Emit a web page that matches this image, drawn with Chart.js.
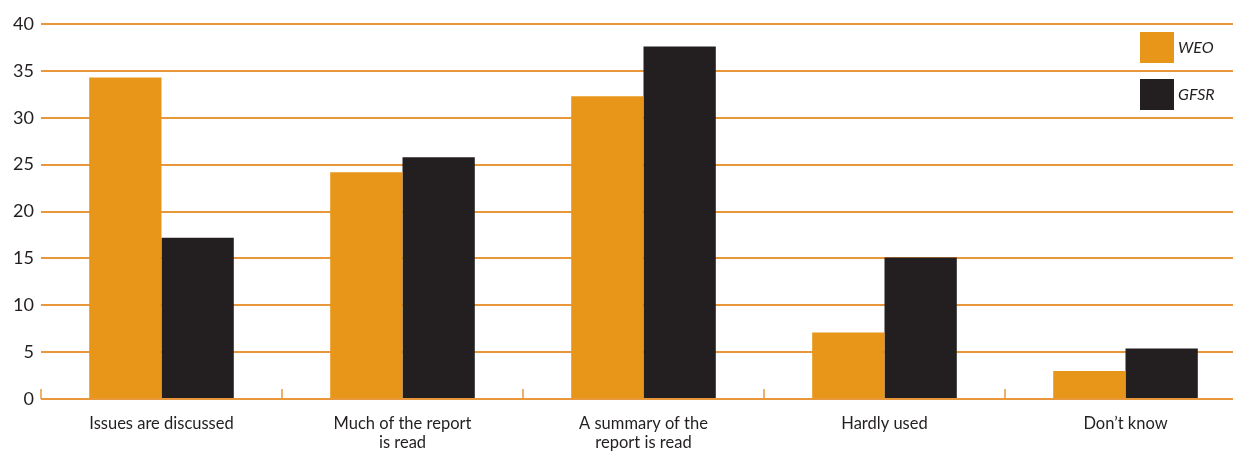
<!DOCTYPE html>
<html>
<head>
<meta charset="utf-8">
<script src="https://cdn.jsdelivr.net/npm/chart.js@4.4.1/dist/chart.umd.min.js"></script>
<style>
html,body{margin:0;padding:0;background:#fff;overflow:hidden;width:1233px;height:452px;}
#wrap{position:relative;width:1246px;height:452px;}
</style>
</head>
<body>
<div id="wrap"><canvas id="c"></canvas></div>
<script>
const categories = ["Issues are discussed", ["Much of the report", "is read"], ["A summary of the", "report is read"], "Hardly used", "Don\u2019t know"];
const weoValues = [34.3, 24.2, 32.3, 7.1, 3.0];
const gfsrValues = [17.2, 25.8, 37.6, 15.1, 5.4];
const yTicks = [0, 5, 10, 15, 20, 25, 30, 35, 40];

const ORANGE = '#E8961A';
const DARK = '#231F20';
const GRID = '#E8973A';

const boundaryMarks = {
  id: 'boundaryMarks',
  afterDatasetsDraw(chart) {
    const x = chart.scales.x, ctx = chart.ctx, bottom = chart.chartArea.bottom;
    ctx.save();
    ctx.strokeStyle = GRID;
    ctx.lineWidth = 1.5;
    for (let i = 0; i < categories.length; i++) {
      const px = i === 0 ? x.getPixelForValue(0) - (x.getPixelForValue(1) - x.getPixelForValue(0)) / 2
                         : (x.getPixelForValue(i - 1) + x.getPixelForValue(i)) / 2;
      ctx.beginPath();
      ctx.moveTo(px, bottom);
      ctx.lineTo(px, bottom - 10);
      ctx.stroke();
    }
    ctx.restore();
  }
};

const insideLegend = {
  id: 'insideLegend',
  afterDraw(chart) {
    const ctx = chart.ctx, top = chart.chartArea.top;
    ctx.save();
    chart.data.datasets.forEach((ds, i) => {
      const bx = 1140, by = top + 8 + i * 47;
      ctx.fillStyle = ds.backgroundColor;
      ctx.fillRect(bx, by, 34, 31);
      ctx.fillStyle = DARK;
      ctx.font = 'italic 16px Lato';
      ctx.textBaseline = 'middle';
      ctx.textAlign = 'left';
      ctx.fillText(ds.label, bx + 38, by + 16);
    });
    ctx.restore();
  }
};

new Chart(document.getElementById('c'), {
  type: 'bar',
  data: {
    labels: categories,
    datasets: [
      { label: 'WEO', data: weoValues, backgroundColor: ORANGE, borderWidth: 0 },
      { label: 'GFSR', data: gfsrValues, backgroundColor: DARK, borderWidth: 0 }
    ]
  },
  options: {
    responsive: true,
    maintainAspectRatio: false,
    animation: false,
    layout: { padding: { top: 24, right: 0, left: 0, bottom: 0 } },
    plugins: { legend: { display: false }, tooltip: { enabled: false } },
    datasets: { bar: { categoryPercentage: 0.6, barPercentage: 1.0 } },
    scales: {
      x: {
        grid: { display: false },
        border: { display: false },
        ticks: { color: DARK, font: { family: 'Lato', size: 16.5, lineHeight: 1.15 }, padding: 7, maxRotation: 0, autoSkip: false },
        afterFit(s) { s.height = 53; }
      },
      y: {
        min: 0, max: 40,
        afterBuildTicks(s) { s.ticks = yTicks.map(v => ({ value: v })); },
        grid: { color: GRID, lineWidth: 2, drawTicks: false },
        border: { display: false },
        ticks: { color: DARK, font: { family: 'Lato', size: 18 }, padding: 7 },
        afterFit(s) { s.width = 41; }
      }
    }
  },
  plugins: [boundaryMarks, insideLegend]
});
</script>
</body>
</html>
